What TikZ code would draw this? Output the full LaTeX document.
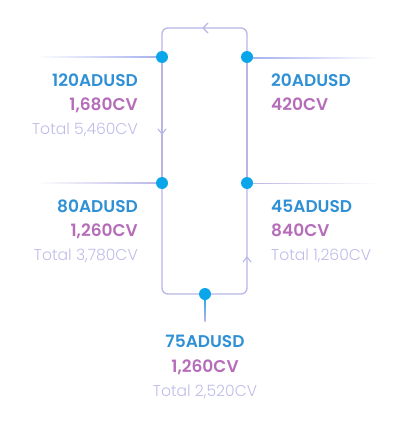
\documentclass[tikz,border=0pt]{standalone}
\usepackage{fontspec}
\setmainfont{Poppins}[BoldFont={Poppins SemiBold}]
\newfontfamily\poplight{Poppins Light}
\usetikzlibrary{backgrounds}
\definecolor{lineC}{HTML}{B9B6E6}
\definecolor{dotC}{HTML}{0BA6EA}
\definecolor{blueT}{HTML}{2F90D5}
\definecolor{purpT}{HTML}{B56DB9}
\definecolor{lightT}{HTML}{BFBCE8}
\definecolor{hlineC}{HTML}{A3AEEE}
\tikzset{
  loopline/.style={draw=lineC, line width=1.3pt, rounded corners=6pt},
  dotnode/.style={circle, fill=dotC, inner sep=0pt, minimum size=12pt},
  amt/.style={font=\fontsize{17}{17}\selectfont\bfseries, text=blueT, inner sep=0pt},
  cv/.style={font=\fontsize{17}{17}\selectfont\bfseries, text=purpT, inner sep=0pt},
  tot/.style={font=\fontsize{15.6}{15.6}\poplight\selectfont, text=lightT, inner sep=0pt},
  chev/.style={draw=lineC, line width=1.1pt, line cap=round, line join=round},
}
\begin{document}
\begin{tikzpicture}[x=1pt,y=-1pt]
\useasboundingbox (0,0) rectangle (410,423);
% dots
\node[dotnode] (lt) at (162,57) {};
\node[dotnode] (rt) at (247,57) {};
\node[dotnode] (lm) at (162,183) {};
\node[dotnode] (rm) at (247,183) {};
\node[dotnode] (bm) at (205,294) {};
\coordinate (tl) at (162,28);
\coordinate (tr) at (247,28);
\coordinate (bl) at (162,294);
\coordinate (br) at (247,294);
\begin{pgfonlayer}{background}
% horizontal lines
\shade[left color=white, right color=hlineC] (35,56) rectangle (lt.center);
\shade[left color=hlineC, right color=white] (rt.center) rectangle (380,58);
\shade[left color=white, right color=lineC] (35,182.4) rectangle (lm.center);
\shade[left color=lineC, right color=white] (rm.center) rectangle (380,183.6);
% loop
\draw[loopline] (lt.center) -- (tl) -- (tr) -- (rt.center);
\draw[loopline] (lt.center) -- (lm.center);
\draw[loopline] (rt.center) -- (rm.center);
\draw[loopline] (lm.center) -- (bl) -- (bm.center);
\draw[loopline] (rm.center) -- (br) -- (bm.center);
\shade[top color=dotC, bottom color=lineC] (204.3,294) rectangle (205.7,321);
\end{pgfonlayer}
% chevrons
\draw[chev] (208,23) -- (203,28) -- (208,33);
\draw[chev] (158,129) -- (162,134) -- (166,129);
\draw[chev] (243,262) -- (247,257) -- (251,262);
% texts left top
\node[amt, anchor=base east] (t1) at (138,86) {120ADUSD};
\node[cv, anchor=base east] (t2) at (138,110) {1,680CV};
\node[tot, anchor=base east] (t3) at (138,134) {Total 5,460CV};
% right top
\node[amt, anchor=base west] (t4) at (271,86) {20ADUSD};
\node[cv, anchor=base west] (t5) at (271,110) {420CV};
% left mid
\node[amt, anchor=base east] (t6) at (138,212) {80ADUSD};
\node[cv, anchor=base east] (t7) at (138,236) {1,260CV};
\node[tot, anchor=base east] (t8) at (138,260) {Total 3,780CV};
% right mid
\node[amt, anchor=base west] (t9) at (271,212) {45ADUSD};
\node[cv, anchor=base west] (t10) at (271,236) {840CV};
\node[tot, anchor=base west] (t11) at (271,260) {Total 1,260CV};
% bottom
\node[amt, anchor=base] (t12) at (205,347) {75ADUSD};
\node[cv, anchor=base] (t13) at (205,372) {1,260CV};
\node[tot, anchor=base] (t14) at (205,396) {Total 2,520CV};
\end{tikzpicture}
\end{document}
